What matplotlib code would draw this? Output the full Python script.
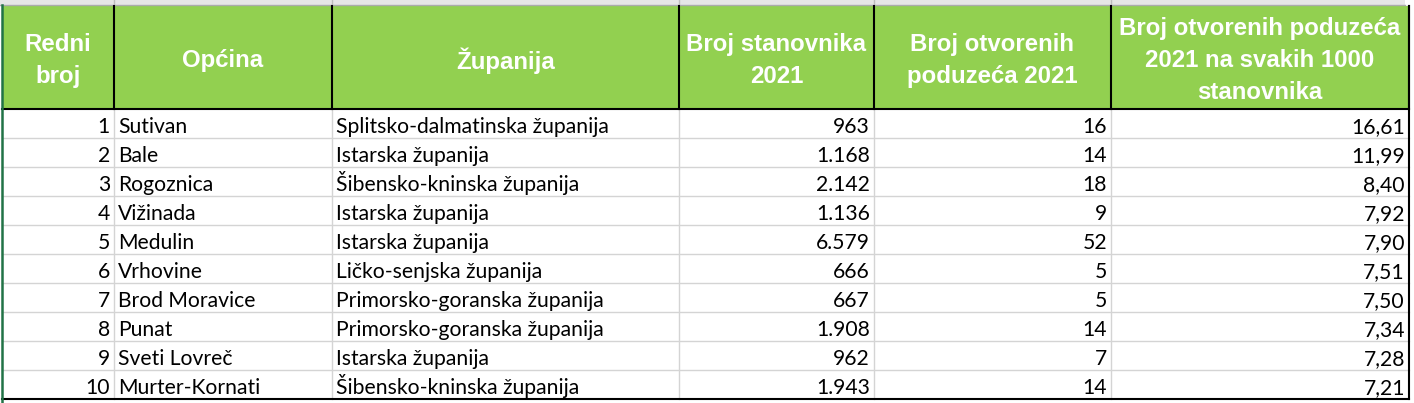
"""Tablica: općine s najviše otvorenih poduzeća na 1000 stanovnika (2021)."""
import matplotlib.pyplot as plt
from matplotlib.patches import Rectangle

# ── Podaci ──────────────────────────────────────────────────────────────────
headers = [
    "Redni\nbroj",
    "Općina",
    "Županija",
    "Broj stanovnika\n2021",
    "Broj otvorenih\npoduzeća 2021",
    "Broj otvorenih poduzeća\n2021 na svakih 1000\nstanovnika",
]
redni_broj = [1, 2, 3, 4, 5, 6, 7, 8, 9, 10]
opcine = ["Sutivan", "Bale", "Rogoznica", "Vižinada", "Medulin", "Vrhovine",
          "Brod Moravice", "Punat", "Sveti Lovreč", "Murter-Kornati"]
zupanije = ["Splitsko-dalmatinska županija", "Istarska županija",
            "Šibensko-kninska županija", "Istarska županija", "Istarska županija",
            "Ličko-senjska županija", "Primorsko-goranska županija",
            "Primorsko-goranska županija", "Istarska županija",
            "Šibensko-kninska županija"]
stanovnici = ["963", "1.168", "2.142", "1.136", "6.579", "666", "667", "1.908",
              "962", "1.943"]
poduzeca = [16, 14, 18, 9, 52, 5, 5, 14, 7, 14]
na_1000 = ["16,61", "11,99", "8,40", "7,92", "7,90", "7,51", "7,50", "7,34",
           "7,28", "7,21"]

# ── Raspored (pikseli) ──────────────────────────────────────────────────────
W, H = 1414, 403
col_edges = [2, 114, 332, 679, 874, 1111, 1409]
head_top, head_bot = 6, 109
body_bot = 399
row_h = (body_bot - head_bot) / len(redni_broj)

GREEN = "#92d050"
GRID = "#d4d4d4"
LW = 1.5

fig = plt.figure(figsize=(W / 100, H / 100), dpi=100, facecolor="white")
ax = fig.add_axes([0, 0, 1, 1])
ax.set_xlim(0, W)
ax.set_ylim(H, 0)
ax.axis("off")

# gornja siva traka (Excel)
ax.add_patch(Rectangle((0, 0), 1405, 5, color="#e6e6e6", lw=0))
ax.plot([0, 1405], [5, 5], color="#ababab", lw=1)
for x in col_edges[1:-1]:
    ax.plot([x, x], [0, 5], color="#bdbdbd", lw=1)

# zaglavlje
ax.add_patch(Rectangle((col_edges[0], head_top), col_edges[-1] - col_edges[0],
                       head_bot - head_top, color=GREEN, lw=0))
for i, txt in enumerate(headers):
    cx = (col_edges[i] + col_edges[i + 1]) / 2
    ax.text(cx, (head_top + head_bot) / 2 + 3, txt, ha="center", va="center",
            color="white", fontsize=17.3, fontweight="bold",
            family="Liberation Sans", linespacing=1.48)

# tijelo - linije mreže
for r in range(1, len(redni_broj)):
    y = head_bot + r * row_h
    ax.plot([col_edges[0], col_edges[-1]], [y, y], color=GRID, lw=1)
for x in col_edges[1:-1]:
    ax.plot([x, x], [head_bot, body_bot], color=GRID, lw=1)

# tekst u ćelijama (na baznoj liniji, da dijakritici ne pomiču redak)
cols = [redni_broj, opcine, zupanije, stanovnici, poduzeca, na_1000]
right_aligned = [True, False, False, True, True, True]
for r in range(len(redni_broj)):
    base = head_bot + (r + 1) * row_h - 5
    for c, values in enumerate(cols):
        if right_aligned[c]:
            x, ha = col_edges[c + 1] - 4, "right"
        else:
            x, ha = col_edges[c] + 4, "left"
        ax.text(x, base, str(values[r]), ha=ha, va="baseline", color="black",
                fontsize=15.2, family="Lato")

# debeli obrubi
for x in col_edges[1:]:
    ax.plot([x, x], [head_top, head_bot], color="black", lw=LW)
ax.plot([col_edges[0], col_edges[-1]], [head_bot, head_bot], color="black", lw=LW)
ax.plot([col_edges[-1], col_edges[-1]], [head_top, body_bot], color="black", lw=LW)
ax.plot([col_edges[0], col_edges[-1]], [body_bot, body_bot], color="black", lw=LW)

# zelena linija odabira lijevo
ax.plot([2, 2], [5, H], color="#217346", lw=1.8)

fig.savefig("out.png", dpi=100, facecolor="white")
